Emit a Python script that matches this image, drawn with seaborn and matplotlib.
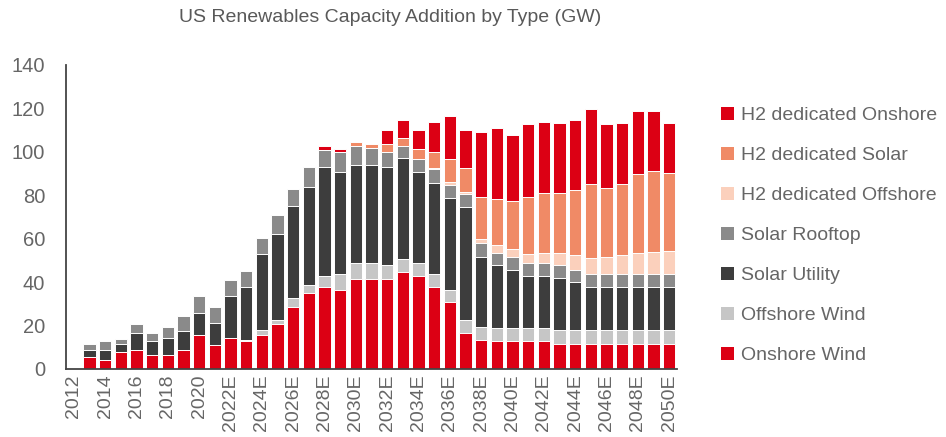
import numpy as np
import pandas as pd
import matplotlib
matplotlib.use("Agg")
import matplotlib.pyplot as plt
from matplotlib.patches import Patch
import seaborn as sns

# Category axis: 2012 actuals through 2050 estimates
years = (["2012", "2013", "2014", "2015", "2016", "2017", "2018", "2019", "2020", "2021"]
         + [f"{y}E" for y in range(2022, 2051)])

# Capacity additions by technology, GW
onshore_wind = [0, 5.4, 4.3, 7.7, 8.9, 6.5, 6.5, 8.9, 15.8, 11.0,
                14.5, 12.7, 15.6, 20.9, 28.6, 34.8, 37.7, 36.6, 41.6, 41.6,
                41.6, 44.5, 42.8, 37.7, 30.8, 16.7, 13.4, 12.7, 12.7, 12.7,
                12.7, 11.6, 11.6, 11.6, 11.6, 11.6, 11.6, 11.6, 11.6]
offshore_wind = [0, 0, 0, 0, 0, 0, 0, 0, 0, 0,
                 0, 0.7, 2.2, 1.5, 4.0, 3.8, 4.9, 7.3, 7.4, 7.4,
                 6.3, 6.0, 6.2, 6.2, 5.7, 5.7, 6.0, 6.0, 6.0, 6.0,
                 6.0, 6.2, 6.2, 6.2, 6.2, 6.2, 6.2, 6.2, 6.2]
solar_utility = [0, 3.4, 4.4, 3.9, 7.6, 6.4, 7.8, 8.8, 9.8, 10.2,
                 19.2, 24.3, 35.1, 40.0, 42.4, 45.2, 50.3, 46.8, 44.8, 44.8,
                 45.1, 46.7, 41.7, 41.7, 42.4, 52.4, 32.4, 29.2, 26.9, 24.1,
                 24.1, 23.9, 22.2, 19.9, 19.9, 19.9, 19.9, 19.9, 19.9]
solar_rooftop = [0, 2.6, 4.0, 2.2, 4.1, 3.6, 4.9, 6.8, 8.0, 7.2,
                 7.2, 7.3, 7.6, 8.5, 7.8, 9.0, 8.0, 9.3, 8.8, 8.2,
                 7.0, 5.4, 6.2, 6.3, 5.7, 5.9, 6.2, 5.7, 6.2, 6.2,
                 6.2, 6.2, 5.4, 6.2, 6.2, 6.2, 6.2, 6.2, 6.2]
h2_offshore = [0, 0, 0, 0, 0, 0, 0, 0, 0, 0,
               0, 0, 0, 0, 0, 0, 0, 0, 0, 0,
               0, 0, 0, 0.6, 1.3, 1.0, 1.8, 3.4, 3.4, 3.8,
               4.6, 5.7, 7.0, 7.1, 7.9, 8.5, 9.7, 10.0, 10.5]
h2_solar = [0, 0, 0, 0, 0, 0, 0, 0, 0, 0,
            0, 0, 0, 0, 0, 0, 0, 0, 1.9, 1.8,
            3.4, 4.0, 4.6, 7.5, 10.6, 10.9, 19.2, 21.3, 22.1, 26.2,
            27.5, 27.5, 30.0, 34.2, 31.6, 32.8, 36.0, 37.4, 35.9]
h2_onshore = [0, 0, 0, 0, 0, 0, 0, 0, 0, 0,
              0, 0, 0, 0, 0, 0, 1.7, 1.4, 0, 0,
              6.6, 7.9, 8.5, 13.9, 19.8, 17.4, 30.3, 32.8, 30.4, 33.8,
              32.8, 32.3, 32.2, 34.4, 29.4, 28.2, 29.4, 27.7, 23.1]

series_names = ["Onshore Wind", "Offshore Wind", "Solar Utility", "Solar Rooftop",
                "H2 dedicated Offshore", "H2 dedicated Solar", "H2 dedicated Onshore"]
series_values = [onshore_wind, offshore_wind, solar_utility, solar_rooftop,
                 h2_offshore, h2_solar, h2_onshore]
series_colors = ["#DC0014", "#C6C6C6", "#3D3D3D", "#8A8A8A",
                 "#FBD0BC", "#F08A66", "#DC0014"]

df = pd.DataFrame({"year": years})
for name, vals in zip(series_names, series_values):
    df[name] = vals
cum = df[series_names].cumsum(axis=1)

sns.set_theme(style="white")
plt.rcParams["font.family"] = ["Liberation Sans Narrow", "Liberation Sans", "DejaVu Sans"]
text_color = "#666666"

fig = plt.figure(figsize=(9.46, 4.37), dpi=100)
ax = fig.add_axes([66 / 946, 1 - 369 / 437, (677 - 66) / 946, (369 - 65) / 437])

# Stacked bars: draw cumulative totals from the top layer downwards
for name, color in reversed(list(zip(series_names, series_colors))):
    sns.barplot(x=df["year"], y=cum[name], order=years, color=color,
                saturation=1, width=0.77, edgecolor="white", linewidth=0.7,
                ax=ax, errorbar=None)

ax.set_ylim(0, 140)
ax.set_xlim(-0.5, len(years) - 0.5)
ax.set_yticks(np.arange(0, 141, 20))
ax.set_xticks(range(0, len(years), 2))
ax.set_xticklabels(years[::2], rotation=90)
ax.tick_params(axis="y", labelsize=14.5, colors=text_color, length=0, pad=15)
ax.tick_params(axis="x", labelsize=14, colors=text_color, length=0, pad=4)
ax.set_xlabel("")
ax.set_ylabel("")
for side in ["top", "right"]:
    ax.spines[side].set_visible(False)
for side in ["left", "bottom"]:
    ax.spines[side].set_color("#444444")
    ax.spines[side].set_linewidth(1.3)

fig.text(390 / 946, 1 - 18 / 437, "US Renewables Capacity Addition by Type (GW)",
         ha="center", va="center", fontsize=14, color="#595959")

handles = [Patch(facecolor=c, edgecolor="none", label=n)
           for n, c in zip(series_names, series_colors)][::-1]
fig.legend(handles=handles, loc="upper left", bbox_to_anchor=(713 / 946, 1 - 99 / 437),
           frameon=False, fontsize=14, labelcolor=text_color,
           handlelength=0.7, handleheight=0.7, handletextpad=0.35,
           labelspacing=1.15, borderaxespad=0)

fig.savefig("out.png", dpi=100)
